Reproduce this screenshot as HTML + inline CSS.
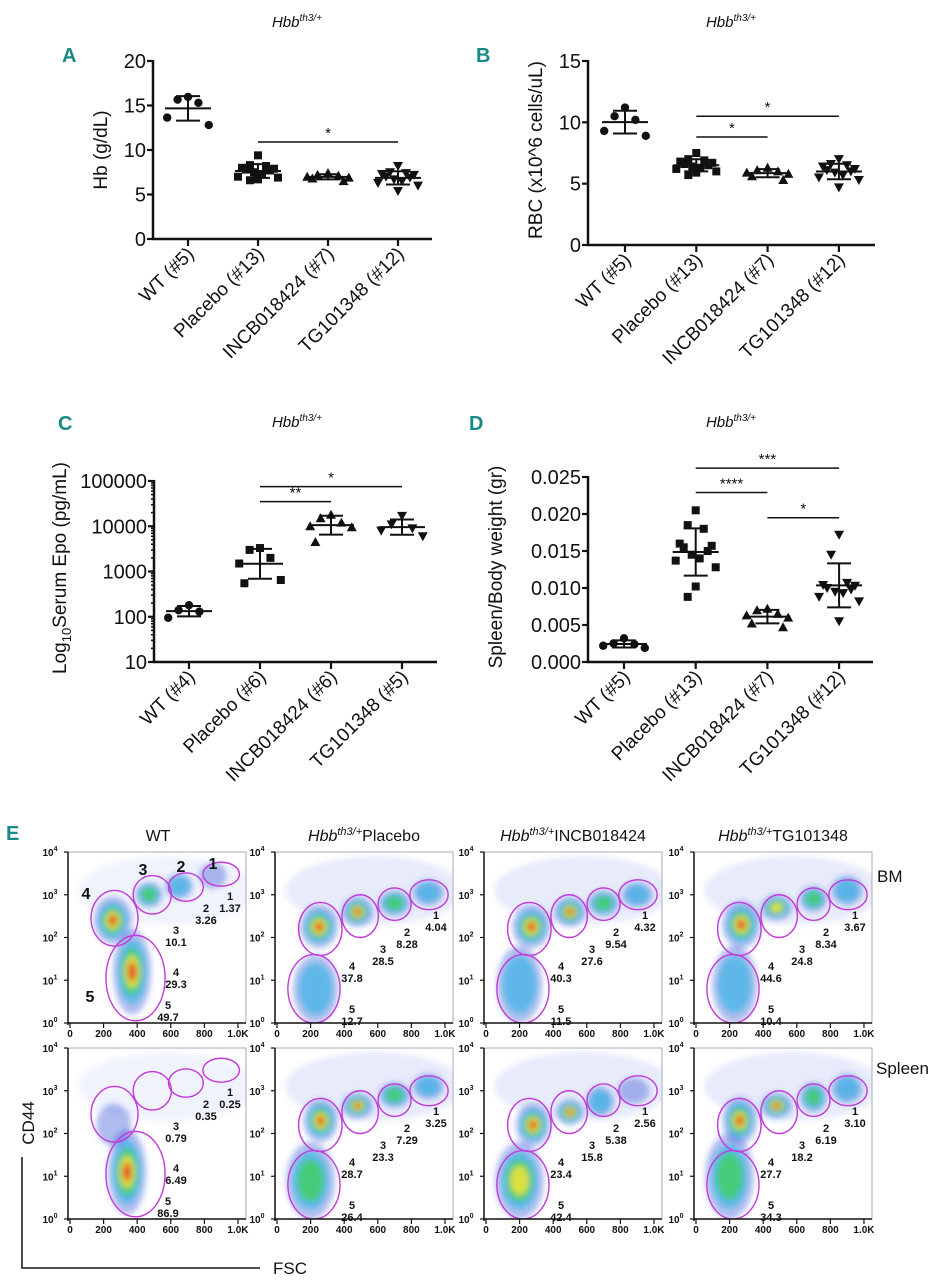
<!DOCTYPE html>
<html><head><meta charset="utf-8"><style>
html,body{margin:0;padding:0;background:#fff;}
svg{display:block;font-family:"Liberation Sans",Arial,sans-serif;}
</style></head><body>
<svg id="fig" width="946" height="1280" viewBox="0 0 946 1280" xmlns="http://www.w3.org/2000/svg">
<defs>
<filter id="blur" x="-30%" y="-30%" width="160%" height="160%"><feGaussianBlur stdDeviation="3"/></filter>
</defs>
</svg>
<script>
// ===== Panel data =====
const groupsA = ["WT (#5)","Placebo (#13)","INCB018424 (#7)","TG101348 (#12)"];
const hbWT = [15.96,15.66,15.3,13.64,12.8];
const hbPlacebo = [9.4,8.3,8.2,8.0,7.9,7.8,7.7,7.5,7.3,7.0,6.9,6.7,6.6];
const hbINCB = [7.4,7.2,7.1,7.0,6.9,6.8,6.5];
const hbTG = [8.2,7.5,7.4,7.3,7.2,7.0,6.9,6.7,6.5,6.3,6.0,5.4];
const ticksA = [0,5,10,15,20];

const groupsB = ["WT (#5)","Placebo (#13)","INCB018424 (#7)","TG101348 (#12)"];
const rbcWT = [11.2,10.5,10.2,9.3,8.9];
const rbcPlacebo = [7.5,7.0,6.9,6.8,6.7,6.6,6.5,6.4,6.3,6.2,6.0,5.9,5.7];
const rbcINCB = [6.3,6.1,6.0,5.9,5.8,5.6,5.3];
const rbcTG = [7.0,6.6,6.5,6.4,6.2,6.1,6.0,5.9,5.7,5.5,5.3,4.7];
const ticksB = [0,5,10,15];

const groupsC = ["WT (#4)","Placebo (#6)","INCB018424 (#6)","TG101348 (#5)"];
const epoWT = [180,140,130,95];
const epoPlacebo = [3300,3000,2000,1500,650,550];
const epoINCB = [18000,15000,12000,10000,9500,4500];
const epoTG = [17000,11000,9000,8000,6000];
const ticksC = [10,100,1000,10000,100000];

const groupsD = ["WT (#5)","Placebo (#13)","INCB018424 (#7)","TG101348 (#12)"];
const spWT = [0.0032,0.0025,0.0024,0.0022,0.0019];
const spPlacebo = [0.0205,0.0185,0.018,0.016,0.0157,0.0155,0.015,0.0145,0.014,0.0137,0.0128,0.0102,0.0088];
const spINCB = [0.0072,0.0070,0.0065,0.0063,0.0060,0.0052,0.0047];
const spTG = [0.0172,0.0145,0.0107,0.0104,0.0103,0.010,0.0098,0.0095,0.0093,0.0088,0.0082,0.0055];
const ticksD = [0,0.005,0.010,0.015,0.020,0.025];

// significance bars: [fromGroup, toGroup, value, label]
const sigA = [[1,3,10.9,"*"]];
const sigB = [[1,2,8.8,"*"],[1,3,10.5,"*"]];
const sigC = [[1,2,35000,"**"],[1,3,75000,"*"]];
const sigD = [[1,3,0.0262,"***"],[1,2,0.0229,"****"],[2,3,0.0195,"*"]];

const NS="http://www.w3.org/2000/svg";
const svg=document.getElementById('fig');
function mk(tag,attrs,parent){const e=document.createElementNS(NS,tag);for(const k in attrs)e.setAttribute(k,attrs[k]);(parent||svg).appendChild(e);return e;}
function txt(s,attrs,parent){const e=mk('text',attrs,parent);e.textContent=s;return e;}
function mean(a){return a.reduce((s,v)=>s+v,0)/a.length;}
function sd(a){const m=mean(a);return Math.sqrt(a.reduce((s,v)=>s+(v-m)*(v-m),0)/(a.length-1));}

function marker(shape,x,y,g){
  let e;
  if(shape===0){e=mk('circle',{cx:x,cy:y,r:4.2,fill:'#111'},g);}
  else if(shape===1){e=mk('rect',{x:x-4,y:y-4,width:8,height:8,fill:'#111'},g);}
  else if(shape===2){e=mk('polygon',{points:`${x},${y-5} ${x-5},${y+4} ${x+5},${y+4}`,fill:'#111'},g);}
  else {e=mk('polygon',{points:`${x},${y+5} ${x-5},${y-4} ${x+5},${y-4}`,fill:'#111'},g);}
  
  
}

function panel(cfg){
  const g=mk('g',{});
  
  
  const {x0,x1,yb,yt}=cfg;
  const yScale=cfg.log?(v=>yb-(Math.log10(v)-Math.log10(cfg.min))/(Math.log10(cfg.max)-Math.log10(cfg.min))*(yb-yt))
                      :(v=>yb-(v-cfg.min)/(cfg.max-cfg.min)*(yb-yt));
  const L=txt(cfg.letter,{x:cfg.lx,y:cfg.ly,'font-size':20,'font-weight':'bold',fill:'#198a84','font-family':'"Liberation Sans Narrow","Liberation Sans",sans-serif'},g);
  
  const T=mk('text',{x:cfg.tx,y:cfg.ty,'font-size':15,'font-style':'italic','text-anchor':'middle',fill:'#111'},g);
  
  const t1=mk('tspan',{},T);t1.textContent='Hbb';
  const t2=mk('tspan',{'font-size':10,dy:-6},T);t2.textContent='th3/+';
  const ya=mk('line',{x1:x0,y1:yt-1,x2:x0,y2:yb,stroke:'#111','stroke-width':2.5},g);
  
  const xa=mk('line',{x1:x0-1,y1:yb,x2:x1,y2:yb,stroke:'#111','stroke-width':2.5},g);
  
  cfg.ticks.forEach(v=>{
    const y=yScale(v);
    mk('line',{x1:x0-6,y1:y,x2:x0,y2:y,stroke:'#111','stroke-width':2.2},g);
    const tl=txt(cfg.fmt(v),{x:x0-7,y:y+7,'font-size':20,'text-anchor':'end',fill:'#111'},g);
    
  });
  if(cfg.log){
    for(let d=1;d<cfg.ticks.length;d++){for(let k=2;k<10;k++){const y=yScale(cfg.ticks[d-1]*k);mk('line',{x1:x0-3,y1:y,x2:x0,y2:y,stroke:'#111','stroke-width':1.5},g);}}
  }
  const yt_=txt('',{transform:`translate(${cfg.ytx},${cfg.yty}) rotate(-90)`,'font-size':19,'text-anchor':'middle',fill:'#111'},g);
  
  if(cfg.log){const a=mk('tspan',{},yt_);a.textContent='Log';const b=mk('tspan',{'font-size':13,dy:5},yt_);b.textContent='10';const c=mk('tspan',{dy:-5},yt_);c.textContent='Serum Epo (pg/mL)';}
  else yt_.textContent=cfg.ytitle;
  const cx=i=>cfg.c0+i*cfg.cstep;
  cfg.groups.forEach((name,i)=>{
    const x=cx(i);
    mk('line',{x1:x,y1:yb,x2:x,y2:yb+7,stroke:'#111','stroke-width':2.2},g);
    const cl=txt(name,{transform:`translate(${x+7},${yb+16}) rotate(-45)`,'font-size':19,'text-anchor':'end',fill:'#111'},g);
    
    const vals=cfg.series[i];
    const sorted=[...vals].sort((a,b)=>b-a);
    let m,lo,hi;
    if(cfg.log){const lv=vals.map(v=>Math.log10(v));const lm=mean(lv),ls=sd(lv);m=Math.pow(10,lm);lo=Math.pow(10,lm-ls);hi=Math.pow(10,lm+ls);}
    else{m=mean(vals);const s=sd(vals);lo=m-s;hi=m+s;}
    const pat=[0,-1,1,-2,2,-1.5,1.5,-0.5,0.5,-2.5,2.5,0,-1,1];
    sorted.forEach((v,j)=>{marker(i,x+pat[j%pat.length]*8*(vals.length>7?1:1.3),yScale(v),g);});
    const ml=mk('line',{x1:x-23,y1:yScale(m),x2:x+23,y2:yScale(m),stroke:'#111','stroke-width':2},g);
    
    mk('line',{x1:x,y1:yScale(hi),x2:x,y2:yScale(lo),stroke:'#111','stroke-width':2},g);
    mk('line',{x1:x-12,y1:yScale(hi),x2:x+12,y2:yScale(hi),stroke:'#111','stroke-width':2},g);
    mk('line',{x1:x-12,y1:yScale(lo),x2:x+12,y2:yScale(lo),stroke:'#111','stroke-width':2},g);
  });
  cfg.sig.forEach(s=>{
    const y=yScale(s[2]);
    const b=mk('line',{x1:cx(s[0]),y1:y,x2:cx(s[1]),y2:y,stroke:'#111','stroke-width':1.5},g);
    
    txt(s[3],{x:(cx(s[0])+cx(s[1]))/2,y:y-4,'font-size':15,'text-anchor':'middle',fill:'#111'},g);
  });
}

panel({name:'panel-a-hb',letter:'A',lx:62,ly:62,tx:297,ty:27,x0:153,x1:432,yb:239,yt:61,min:0,max:20,ticks:ticksA,fmt:v=>String(v),
  ytx:107,yty:150,ytitle:'Hb (g/dL)',groups:groupsA,c0:188,cstep:70,series:[hbWT,hbPlacebo,hbINCB,hbTG],sig:sigA});
panel({name:'panel-b-rbc',letter:'B',lx:476,ly:62,tx:731,ty:27,x0:588,x1:875,yb:245,yt:61,min:0,max:15,ticks:ticksB,fmt:v=>String(v),
  ytx:542,yty:150,ytitle:'RBC (x10^6 cells/uL)',groups:groupsB,c0:625,cstep:71.3,series:[rbcWT,rbcPlacebo,rbcINCB,rbcTG],sig:sigB});
panel({name:'panel-c-epo',letter:'C',lx:58,ly:430,tx:297,ty:427,x0:154,x1:437,yb:662,yt:481,min:10,max:100000,log:true,ticks:ticksC,fmt:v=>String(v),
  ytx:66,yty:568,groups:groupsC,c0:189,cstep:71,series:[epoWT,epoPlacebo,epoINCB,epoTG],sig:sigC});
panel({name:'panel-d-spleen',letter:'D',lx:469,ly:430,tx:731,ty:427,x0:588,x1:873,yb:662,yt:477,min:0,max:0.025,ticks:ticksD,fmt:v=>v.toFixed(3),
  ytx:502,yty:567,ytitle:'Spleen/Body weight (gr)',groups:groupsD,c0:624,cstep:71.7,series:[spWT,spPlacebo,spINCB,spTG],sig:sigD});

// ===== Panel E: flow cytometry =====
const flowCols = ["WT","Placebo","INCB018424","TG101348"];
const flowRows = ["BM","Spleen"];
const blobsWTBM = [[370,1.2,110,1.0,5],[255,2.4,110,0.55,5],[470,3.0,80,0.3,3],[650,3.2,80,0.3,2],[850,3.45,80,0.3,1]];
const blobsPlaBM = [[230,0.8,130,0.8,2],[250,2.25,110,0.5,5],[480,2.6,90,0.35,5],[700,2.8,90,0.3,3],[900,3.05,90,0.3,2]];
const blobsIncBM = [[200,0.9,130,0.9,2],[270,2.25,110,0.5,5],[500,2.6,90,0.35,5],[700,2.8,90,0.3,3],[900,3.0,90,0.3,2]];
const blobsTgBM = [[230,0.9,130,0.9,2],[270,2.3,110,0.55,5],[480,2.7,90,0.3,4],[700,2.9,80,0.3,3],[900,3.1,90,0.35,2]];
const blobsWTSp = [[340,1.1,110,1.0,5],[260,2.2,100,0.5,1]];
const blobsPlaSp = [[200,0.9,140,0.9,3],[260,2.3,100,0.5,5],[480,2.65,90,0.3,5],[700,2.9,90,0.3,3],[900,3.1,90,0.3,2]];
const blobsIncSp = [[200,0.9,140,0.9,4],[280,2.2,100,0.5,5],[500,2.5,80,0.3,5],[680,2.75,80,0.35,2],[880,3.0,90,0.3,1]];
const blobsTgSp = [[200,1.0,140,1.0,3],[260,2.3,100,0.55,5],[480,2.65,90,0.3,5],[700,2.85,80,0.35,3],[900,3.05,90,0.35,2]];
const gatesWT = [[900,3.48,105,0.28],[690,3.18,100,0.33],[490,3.0,110,0.45],[265,2.45,135,0.65],[390,1.05,170,1.0]];
const gatesTh = [[905,3.0,110,0.35],[700,2.78,95,0.38],[495,2.5,105,0.5],[258,2.2,125,0.62],[220,0.8,150,0.8]];
const pctWTBM = ["1.37","3.26","10.1","29.3","49.7"];
const pctPlaBM = ["4.04","8.28","28.5","37.8","12.7"];
const pctIncBM = ["4.32","9.54","27.6","40.3","11.5"];
const pctTgBM = ["3.67","8.34","24.8","44.6","10.4"];
const pctWTSp = ["0.25","0.35","0.79","6.49","86.9"];
const pctPlaSp = ["3.25","7.29","23.3","28.7","26.4"];
const pctIncSp = ["2.56","5.38","15.8","23.4","42.4"];
const pctTgSp = ["3.10","6.19","18.2","27.7","34.3"];
const xTicksFlow = ["0","200","400","600","800","1.0K"];

const plotLefts=[68,275,484,694], plotTops=[852,1048], PW=178, PH=171;
const labWT=[[162,44],[138,56],[108,78],[108,120],[100,153]];
const labTh=[[161,63],[132,80],[108,97],[77,114],[77,157]];
const allBlobs=[[blobsWTBM,blobsPlaBM,blobsIncBM,blobsTgBM],[blobsWTSp,blobsPlaSp,blobsIncSp,blobsTgSp]];
const allPct=[[pctWTBM,pctPlaBM,pctIncBM,pctTgBM],[pctWTSp,pctPlaSp,pctIncSp,pctTgSp]];
const layers=[[1.0,'#3a52d6',0.4,1],[0.75,'#3cb6e6',0.7,2],[0.55,'#43d065',0.85,3],[0.38,'#ece23c',0.9,4],[0.22,'#e63b22',0.95,5]];

allBlobs.forEach((row,r)=>row.forEach((blobs,c)=>{
  const L=plotLefts[c],T=plotTops[r];
  const fx=v=>L+2+v/1024*(PW-6), fy=l=>T+PH-l*(PH/4);
  const g=mk('g',{});
  
  
  const cid='clip'+r+c;
  const cp=mk('clipPath',{id:cid},g);mk('rect',{x:L,y:T,width:PW,height:PH},cp);
  const inner=mk('g',{'clip-path':`url(#${cid})`},g);
  const cloud=mk('g',{filter:'url(#blur)'},inner);
  const cloudOp=(c===0)?0.08:0.13;
  mk('ellipse',{cx:fx(580),cy:fy(3.1),rx:(PW*0.5),ry:PH*0.2,fill:'#4a60d8',opacity:cloudOp},cloud);
  const dens=mk('g',{filter:'url(#blur)'},inner);
  blobs.forEach(b=>{
    const rx=b[2]/1024*PW, ry=b[3]*PH/4;
    layers.forEach(ly=>{ if(b[4]>=ly[3]) mk('ellipse',{cx:fx(b[0]),cy:fy(b[1]),rx:rx*ly[0],ry:ry*ly[0],fill:ly[1],opacity:ly[2]},dens); });
  });
  const gates=c===0?gatesWT:gatesTh;
  gates.forEach(q=>{
    const ge=mk('ellipse',{cx:fx(q[0]),cy:fy(q[1]),rx:q[2]/1024*PW,ry:q[3]*PH/4,fill:'none',stroke:'#c23ad8','stroke-width':1.4},inner);
    
  });
  mk('rect',{x:L,y:T,width:PW,height:PH,fill:'none',stroke:'#aab','stroke-width':1},g);
  mk('line',{x1:L,y1:T,x2:L,y2:T+PH+2,stroke:'#111','stroke-width':1.5},g);
  mk('line',{x1:L,y1:T+PH,x2:L+PW,y2:T+PH,stroke:'#111','stroke-width':1.5},g);
  for(let d=0;d<=4;d++){
    const y=fy(d);
    mk('line',{x1:L-4,y1:y,x2:L,y2:y,stroke:'#111','stroke-width':1.2},g);
    const t=mk('text',{x:L-18,y:y+4,'font-size':10,'font-weight':'bold',fill:'#111','text-anchor':'middle'},g);
    
    const a=mk('tspan',{},t);a.textContent='10';const b=mk('tspan',{'font-size':7,dy:-5},t);b.textContent=String(d);
  }
  xTicksFlow.forEach((s,i)=>{
    const x=fx(i*200>1000?1000:i*200);
    mk('line',{x1:x,y1:T+PH,x2:x,y2:T+PH+5,stroke:'#111','stroke-width':1.2},g);
    const t=txt(s,{x:x,y:T+PH+14,'font-size':10,'font-weight':'bold','text-anchor':'middle',fill:'#111'},g);
    
  });
  const lab=c===0?labWT:labTh;
  allPct[r][c].forEach((p,k)=>{
    const lx=L+lab[k][0], ly=T+lab[k][1];
    txt(String(k+1),{x:lx,y:ly+4,'font-size':11,'font-weight':'bold','text-anchor':'middle',fill:'#111'},g);
    const pv=txt(p,{x:lx,y:ly+16,'font-size':11,'font-weight':'bold','text-anchor':'middle',fill:'#111'},g);
    
  });
  if(c===0&&r===0){
    [["4",18,47],["3",75,23],["2",113,20],["1",145,17],["5",22,150]].forEach(b=>txt(b[0],{x:L+b[1],y:T+b[2],'font-size':16,'font-weight':'bold','text-anchor':'middle',fill:'#111'},g));
  }
}));

const titleX=[158,364,573,783];
flowCols.forEach((cn,i)=>{
  const t=mk('text',{x:titleX[i],y:841,'font-size':16,'text-anchor':'middle',fill:'#111'});
  
  if(i===0){t.textContent='WT';}
  else{const a=mk('tspan',{'font-style':'italic'},t);a.textContent='Hbb';const b=mk('tspan',{'font-size':11,dy:-6,'font-style':'italic'},t);b.textContent='th3/+';const c=mk('tspan',{dy:6},t);c.textContent=cn;}
});
const eL=txt('E',{x:6,y:840,'font-size':20,'font-weight':'bold',fill:'#198a84'});

const bm=txt('BM',{x:877,y:882,'font-size':17,fill:'#111'});

const spl=txt('Spleen',{x:876,y:1074,'font-size':17,fill:'#111'});

const cd=txt('CD44',{transform:'translate(34,1123) rotate(-90)','font-size':17,'text-anchor':'middle',fill:'#111'});

mk('polyline',{points:'22,1157 22,1268 260,1268',fill:'none',stroke:'#111','stroke-width':1.5});
const fsc=txt('FSC',{x:273,y:1274,'font-size':17,fill:'#111'});

</script>
</body></html>
